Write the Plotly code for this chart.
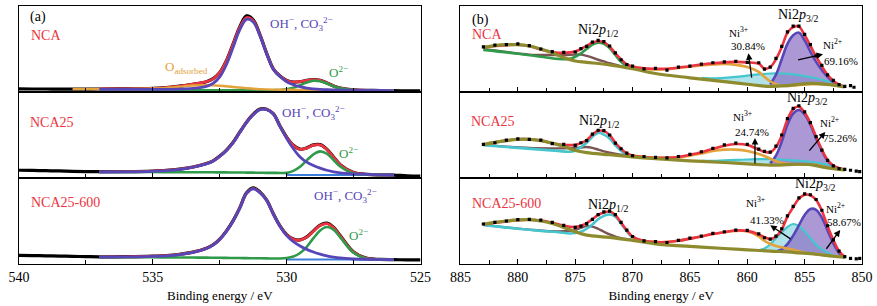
import plotly.graph_objects as go
from plotly.subplots import make_subplots

# ---------------- Panel (a): O 1s ----------------
XA = [537, 536, 535, 534.5, 534, 533.5, 533, 532.75, 532.5, 532.25, 532, 531.75, 531.5, 531.25, 531,
      530.75, 530.5, 530.25, 530, 529.75, 529.5, 529.25, 529, 528.75, 528.5, 528.25, 528, 527.5, 527, 526.5, 526]
XA_RAW = [540, 539.5, 539, 538.5, 538, 537.5, 537, 536, 535, 534.5, 534, 533.5, 533, 532.75, 532.5, 532.25,
          532, 531.75, 531.5, 531.25, 531, 530.75, 530.5, 530.25, 530, 529.75, 529.5, 529.25, 529, 528.75,
          528.5, 528.25, 528, 527.5, 527, 526.5, 526, 525.5, 525]
XADS = [538, 537, 536, 535, 534.5, 534, 533.5, 533, 532.5, 532, 531.5, 531, 530.5, 530, 529, 528, 527, 526]
XBASE_A = [530, 529, 528, 527, 526]

NCA_O_RAW = [0.036, 0.035, 0.035, 0.034, 0.034, 0.034, 0.035, 0.036, 0.042, 0.052, 0.069, 0.09, 0.12, 0.155,
             0.226, 0.365, 0.56, 0.76, 0.885, 0.84, 0.668, 0.452, 0.27, 0.185, 0.133, 0.115, 0.12, 0.135,
             0.145, 0.135, 0.105, 0.07, 0.045, 0.024, 0.02, 0.017, 0.015, 0.013, 0.012]
NCA_O_FIT = [0.035, 0.036, 0.042, 0.052, 0.069, 0.091, 0.12, 0.153, 0.224, 0.363, 0.555, 0.752, 0.865, 0.829,
             0.664, 0.451, 0.269, 0.184, 0.132, 0.115, 0.121, 0.135, 0.145, 0.134, 0.104, 0.07, 0.044, 0.023,
             0.02, 0.018, 0.017]
NCA_OH = [0.03, 0.03, 0.03, 0.031, 0.034, 0.042, 0.065, 0.1, 0.175, 0.32, 0.52, 0.725, 0.845, 0.815, 0.655,
          0.445, 0.265, 0.18, 0.12, 0.085, 0.062, 0.045, 0.036, 0.03, 0.026, 0.024, 0.022, 0.02, 0.019, 0.018, 0.017]
NCA_O2 = [0.02, 0.02, 0.02, 0.02, 0.02, 0.02, 0.02, 0.02, 0.02, 0.02, 0.02, 0.02, 0.02, 0.02, 0.02, 0.02,
          0.021, 0.024, 0.032, 0.05, 0.079, 0.11, 0.13, 0.124, 0.098, 0.066, 0.042, 0.023, 0.02, 0.018, 0.017]
NCA_ADS = [0.035, 0.033, 0.034, 0.04, 0.048, 0.062, 0.075, 0.08, 0.073, 0.058, 0.044, 0.034, 0.028, 0.026,
           0.024, 0.022, 0.021, 0.02]

NCA25_O_RAW = [0.09, 0.088, 0.085, 0.082, 0.078, 0.075, 0.073, 0.075, 0.081, 0.088, 0.103, 0.128, 0.168, 0.2,
               0.255, 0.325, 0.415, 0.535, 0.65, 0.742, 0.802, 0.8, 0.748, 0.605, 0.475, 0.38, 0.335, 0.35,
               0.385, 0.388, 0.335, 0.245, 0.155, 0.063, 0.042, 0.036, 0.034, 0.025, 0.022]
NCA25_O_FIT = [0.072, 0.074, 0.08, 0.087, 0.102, 0.127, 0.167, 0.197, 0.252, 0.322, 0.412, 0.532, 0.647, 0.737,
               0.797, 0.797, 0.747, 0.603, 0.473, 0.378, 0.334, 0.349, 0.382, 0.385, 0.332, 0.242, 0.154, 0.062,
               0.042, 0.037, 0.035]
NCA25_OH = [0.07, 0.072, 0.078, 0.085, 0.1, 0.125, 0.165, 0.195, 0.25, 0.32, 0.41, 0.53, 0.645, 0.735, 0.795,
            0.795, 0.745, 0.6, 0.46, 0.34, 0.245, 0.185, 0.145, 0.115, 0.09, 0.072, 0.06, 0.048, 0.041, 0.037, 0.035]
NCA25_O2 = [0.07, 0.07, 0.069, 0.068, 0.068, 0.067, 0.066, 0.066, 0.065, 0.065, 0.064, 0.064, 0.063, 0.062,
            0.061, 0.06, 0.06, 0.059, 0.06, 0.083, 0.13, 0.205, 0.275, 0.31, 0.282, 0.21, 0.133, 0.052, 0.04,
            0.036, 0.035]
NCA25_BASE = [0.036, 0.035, 0.035, 0.034, 0.034]

NCA25600_O_RAW = [0.1, 0.098, 0.095, 0.092, 0.089, 0.086, 0.083, 0.085, 0.091, 0.098, 0.113, 0.138, 0.183, 0.224,
                  0.29, 0.385, 0.505, 0.655, 0.828, 0.885, 0.838, 0.745, 0.585, 0.443, 0.342, 0.29, 0.28, 0.315,
                  0.385, 0.452, 0.475, 0.428, 0.33, 0.14, 0.066, 0.054, 0.051, 0.048, 0.047]
NCA25600_O_FIT = [0.082, 0.084, 0.09, 0.097, 0.112, 0.137, 0.182, 0.222, 0.287, 0.382, 0.502, 0.652, 0.822,
                  0.877, 0.832, 0.742, 0.582, 0.441, 0.339, 0.287, 0.278, 0.312, 0.381, 0.448, 0.47, 0.424,
                  0.327, 0.138, 0.065, 0.053, 0.05]
NCA25600_OH = [0.08, 0.082, 0.088, 0.095, 0.11, 0.135, 0.18, 0.22, 0.285, 0.38, 0.5, 0.65, 0.82, 0.875, 0.83,
               0.74, 0.58, 0.44, 0.33, 0.26, 0.21, 0.17, 0.14, 0.115, 0.095, 0.08, 0.07, 0.06, 0.055, 0.052, 0.05]
NCA25600_O2 = [0.08, 0.079, 0.078, 0.077, 0.076, 0.075, 0.074, 0.073, 0.072, 0.071, 0.07, 0.069, 0.068, 0.067,
               0.066, 0.065, 0.064, 0.064, 0.07, 0.087, 0.128, 0.2, 0.3, 0.39, 0.43, 0.4, 0.31, 0.13, 0.062,
               0.052, 0.05]
NCA25600_BASE = [0.053, 0.052, 0.051, 0.05, 0.05]

# ---------------- Panel (b): Ni 2p ----------------
XE = [883, 882, 881, 880, 879, 878, 877, 876, 875, 874.5, 874, 873.5, 873, 872.5, 872, 871.5, 871, 870.5, 870,
      869, 868, 867, 866, 865, 864, 863, 862, 861, 860, 859, 858.5, 858, 857.5, 857, 856.5, 856, 855.5, 855,
      854.5, 854, 853.5, 853, 852.5, 852, 851.5]
XRB1 = XE + [851, 850.7]
XRB2 = XE + [851, 850.5, 850.2]
XOL = [883, 882, 881, 880, 879, 878, 877, 876, 875, 874, 872, 870, 868, 865, 862, 860, 858, 856.5, 855.5,
       854.5, 853.5, 852.5, 851.5]
XBRN = [883, 881, 879, 877, 876, 875, 874.5, 874, 873.5, 873, 872.5, 872, 871, 870]
XP = [883, 880, 878, 876.5, 875.5, 875, 874.5, 874, 873.5, 873, 872.5, 872, 871.5, 871, 870.5, 870, 869]
XO = [870, 869, 868, 867, 866, 865, 864, 863, 862, 861, 860, 859, 858.5, 858, 857.5, 857, 856, 855, 854, 853,
      852, 851.5]
N3_X = [864, 863, 862, 861, 860, 859, 858, 857, 856, 855, 854, 853, 852.5, 852]
N2_X = [858, 857.5, 857, 856.5, 856, 855.5, 855, 854.5, 854, 853.5, 853, 852.5, 852, 851.5]
N3_X600 = [859, 858.5, 858, 857.5, 857, 856.5, 856, 855.5, 855, 854.5, 854, 853.5, 853, 852.5, 852, 851.5]
N2_X600 = [857.5, 857, 856.5, 856, 855.5, 855, 854.5, 854, 853.5, 853, 852.5, 852, 851.5]

NCA_NI_RAW = [0.525, 0.545, 0.55, 0.56, 0.54, 0.5, 0.47, 0.46, 0.465, 0.505, 0.53, 0.58, 0.6, 0.585, 0.535,
              0.455, 0.375, 0.32, 0.3, 0.27, 0.275, 0.255, 0.29, 0.3, 0.325, 0.34, 0.35, 0.355, 0.345, 0.34,
              0.265, 0.29, 0.39, 0.53, 0.7, 0.765, 0.765, 0.67, 0.55, 0.42, 0.31, 0.2, 0.135, 0.085, 0.065,
              0.075, 0.055]
NCA_NI_FIT = [0.52, 0.535, 0.545, 0.55, 0.535, 0.495, 0.465, 0.455, 0.47, 0.5, 0.535, 0.575, 0.59, 0.58, 0.53,
              0.45, 0.38, 0.32, 0.295, 0.275, 0.27, 0.27, 0.285, 0.3, 0.32, 0.335, 0.345, 0.35, 0.345, 0.33,
              0.27, 0.29, 0.38, 0.52, 0.69, 0.755, 0.76, 0.66, 0.54, 0.41, 0.3, 0.2, 0.13, 0.085, 0.06]
NCA_SAT1 = [0.52, 0.54, 0.55, 0.55, 0.535, 0.5, 0.455, 0.4, 0.36, 0.345, 0.315, 0.27, 0.215, 0.165, 0.12, 0.09,
            0.065, 0.075, 0.09, 0.1, 0.095, 0.08, 0.06]
NCA_SAT2 = [0.5, 0.465, 0.435, 0.43, 0.43, 0.435, 0.435, 0.42, 0.4, 0.375, 0.355, 0.335, 0.3, 0.275]
NCA_P12 = [0.49, 0.445, 0.41, 0.385, 0.385, 0.41, 0.45, 0.5, 0.55, 0.573, 0.56, 0.51, 0.43, 0.35, 0.3, 0.275, 0.25]
NCA_SAT3 = [0.285, 0.27, 0.26, 0.265, 0.28, 0.295, 0.31, 0.32, 0.325, 0.315, 0.29, 0.235, 0.175, 0.125, 0.09,
            0.072, 0.075, 0.088, 0.095, 0.088, 0.072, 0.06]
NCA_N3 = [0.165, 0.16, 0.165, 0.175, 0.19, 0.205, 0.215, 0.215, 0.205, 0.185, 0.16, 0.125, 0.1, 0.078]
NCA_N3_BG = [0.15, 0.135, 0.12, 0.107, 0.095, 0.08, 0.065, 0.07, 0.08, 0.095, 0.1, 0.092, 0.085, 0.075]
NCA_N2 = [0.09, 0.2, 0.38, 0.56, 0.66, 0.69, 0.6, 0.47, 0.35, 0.255, 0.175, 0.115, 0.082, 0.06]
NCA_N2_BG = [0.065, 0.068, 0.07, 0.075, 0.08, 0.09, 0.095, 0.1, 0.1, 0.098, 0.092, 0.085, 0.075, 0.06]

NCA25_NI_RAW = [0.39, 0.41, 0.44, 0.455, 0.45, 0.44, 0.4, 0.39, 0.38, 0.41, 0.435, 0.51, 0.555, 0.55, 0.5,
                0.405, 0.34, 0.29, 0.26, 0.25, 0.24, 0.235, 0.25, 0.275, 0.305, 0.345, 0.385, 0.405, 0.39,
                0.335, 0.31, 0.3, 0.37, 0.5, 0.69, 0.81, 0.84, 0.77, 0.645, 0.48, 0.325, 0.205, 0.14, 0.11,
                0.1, 0.09, 0.08, 0.075]
NCA25_NI_FIT = [0.39, 0.415, 0.435, 0.45, 0.45, 0.435, 0.405, 0.385, 0.385, 0.405, 0.44, 0.505, 0.55, 0.545,
                0.5, 0.41, 0.34, 0.285, 0.26, 0.245, 0.235, 0.235, 0.245, 0.27, 0.3, 0.34, 0.375, 0.395, 0.385,
                0.33, 0.305, 0.3, 0.36, 0.49, 0.68, 0.8, 0.83, 0.76, 0.64, 0.48, 0.33, 0.21, 0.145, 0.115, 0.1]
NCA25_SAT1 = [0.39, 0.415, 0.435, 0.45, 0.45, 0.435, 0.405, 0.37, 0.32, 0.295, 0.27, 0.245, 0.225, 0.2, 0.18,
              0.165, 0.15, 0.155, 0.16, 0.155, 0.13, 0.11, 0.095]
NCA25_SAT2 = [0.385, 0.365, 0.35, 0.345, 0.345, 0.35, 0.355, 0.36, 0.35, 0.33, 0.31, 0.295, 0.27, 0.255]
NCA25_P12 = [0.38, 0.35, 0.33, 0.315, 0.305, 0.32, 0.36, 0.41, 0.48, 0.525, 0.505, 0.46, 0.38, 0.315, 0.275,
             0.255, 0.24]
NCA25_SAT3 = [0.26, 0.245, 0.235, 0.235, 0.24, 0.26, 0.285, 0.315, 0.33, 0.33, 0.315, 0.28, 0.255, 0.225,
              0.195, 0.175, 0.16, 0.158, 0.15, 0.122, 0.1, 0.095]
NCA25_N3 = [0.2, 0.2, 0.205, 0.21, 0.215, 0.22, 0.22, 0.215, 0.205, 0.195, 0.18, 0.155, 0.135, 0.115]
NCA25_N3_BG = [0.195, 0.19, 0.18, 0.175, 0.165, 0.157, 0.15, 0.152, 0.158, 0.16, 0.145, 0.12, 0.11, 0.1]
NCA25_N2 = [0.17, 0.26, 0.42, 0.62, 0.75, 0.79, 0.74, 0.62, 0.46, 0.32, 0.2, 0.14, 0.11, 0.095]
NCA25_N2_BG = [0.15, 0.15, 0.152, 0.155, 0.158, 0.16, 0.158, 0.155, 0.145, 0.13, 0.12, 0.11, 0.1, 0.095]

NCA25600_NI_RAW = [0.465, 0.485, 0.5, 0.515, 0.52, 0.51, 0.485, 0.45, 0.425, 0.44, 0.47, 0.52, 0.575, 0.605,
                   0.615, 0.575, 0.485, 0.395, 0.32, 0.27, 0.26, 0.25, 0.275, 0.3, 0.325, 0.355, 0.375, 0.395,
                   0.39, 0.35, 0.305, 0.29, 0.325, 0.41, 0.56, 0.67, 0.77, 0.815, 0.805, 0.75, 0.625, 0.445,
                   0.28, 0.15, 0.085, 0.065, 0.06, 0.065]
NCA25600_NI_FIT = [0.46, 0.48, 0.495, 0.51, 0.515, 0.505, 0.48, 0.445, 0.43, 0.445, 0.475, 0.52, 0.57, 0.6,
                   0.61, 0.57, 0.48, 0.39, 0.32, 0.27, 0.255, 0.255, 0.27, 0.295, 0.32, 0.35, 0.37, 0.39, 0.385,
                   0.345, 0.31, 0.29, 0.32, 0.4, 0.55, 0.66, 0.76, 0.805, 0.8, 0.745, 0.62, 0.44, 0.28, 0.15, 0.08]
NCA25600_SAT1 = [0.465, 0.485, 0.5, 0.512, 0.515, 0.5, 0.47, 0.425, 0.375, 0.335, 0.31, 0.275, 0.235, 0.205,
                 0.18, 0.165, 0.15, 0.14, 0.13, 0.12, 0.105, 0.09, 0.08]
NCA25600_SAT2 = [0.455, 0.425, 0.4, 0.38, 0.38, 0.395, 0.42, 0.44, 0.435, 0.41, 0.375, 0.345, 0.3, 0.28]
NCA25600_P12 = [0.455, 0.41, 0.385, 0.37, 0.355, 0.36, 0.375, 0.41, 0.46, 0.52, 0.56, 0.575, 0.55, 0.47, 0.38,
                0.31, 0.265]
NCA25600_SAT3 = [0.3, 0.27, 0.255, 0.255, 0.27, 0.295, 0.32, 0.35, 0.37, 0.385, 0.38, 0.32, 0.27, 0.235, 0.21,
                 0.195, 0.165, 0.13, 0.115, 0.1, 0.085, 0.08]
NCA25600_N3 = [0.16, 0.18, 0.23, 0.3, 0.37, 0.43, 0.465, 0.44, 0.38, 0.3, 0.225, 0.17, 0.13, 0.1, 0.088, 0.08]
NCA25600_N3_BG = [0.16, 0.155, 0.15, 0.145, 0.14, 0.137, 0.135, 0.13, 0.125, 0.12, 0.115, 0.108, 0.1, 0.092,
                  0.085, 0.08]
NCA25600_N2 = [0.145, 0.17, 0.23, 0.33, 0.45, 0.57, 0.64, 0.63, 0.54, 0.39, 0.24, 0.13, 0.08]
NCA25600_N2_BG = [0.145, 0.14, 0.137, 0.135, 0.13, 0.125, 0.12, 0.115, 0.108, 0.1, 0.092, 0.085, 0.08]

SAMPLES = ["NCA", "NCA25", "NCA25-600"]
NI3_PCT = ["30.84%", "24.74%", "41.33%"]
NI2_PCT = ["69.16%", "75.26%", "58.67%"]

# ---------------- styling ----------------
RED = "#ec3340"
PURPLE = "#5646b8"
GREEN = "#2f9a4a"
ORANGE = "#e3a23c"
BLUE = "#3b7dd8"
OLIVE = "#8e8b2e"
BROWN = "#7b5555"
CYAN = "#45c6cf"
N3FILL = "rgba(150,218,226,0.75)"
N2FILL = "rgba(140,112,196,0.72)"
FONT = "Liberation Serif"

fig = make_subplots(rows=3, cols=2, horizontal_spacing=0.0474, vertical_spacing=0)


def line(x, y, color, width, row, col, shape="spline"):
    fig.add_trace(go.Scatter(x=x, y=y, mode="lines", line=dict(color=color, width=width, shape=shape),
                             hoverinfo="skip"), row=row, col=col)


def fill(x, top, low, color, row, col):
    fig.add_trace(go.Scatter(x=list(x) + list(x)[::-1], y=list(top) + list(low)[::-1], mode="lines",
                             fill="toself", fillcolor=color, line=dict(width=0), hoverinfo="skip"),
                  row=row, col=col)


# panel (a)
a_sets = [
    (NCA_O_RAW, NCA_O_FIT, NCA_OH, NCA_O2, None),
    (NCA25_O_RAW, NCA25_O_FIT, NCA25_OH, NCA25_O2, NCA25_BASE),
    (NCA25600_O_RAW, NCA25600_O_FIT, NCA25600_OH, NCA25600_O2, NCA25600_BASE),
]
for i, (raw, fit, oh, o2, base) in enumerate(a_sets):
    r = i + 1
    line(XA_RAW, raw, "black", 3.2, r, 1)
    line(XA, fit, RED, 2.8, r, 1)
    if base is not None:
        line(XBASE_A, base, BLUE, 2.0, r, 1)
    line(XA, o2, GREEN, 2.6, r, 1)
    if i == 0:
        line(XADS, NCA_ADS, ORANGE, 2.4, r, 1)
    line(XA, oh, PURPLE, 2.8, r, 1)

# panel (b)
b_sets = [
    (XRB1, NCA_NI_RAW, NCA_NI_FIT, NCA_SAT1, NCA_SAT2, NCA_P12, NCA_SAT3,
     N3_X, NCA_N3, NCA_N3_BG, N2_X, NCA_N2, NCA_N2_BG, GREEN),
    (XRB2, NCA25_NI_RAW, NCA25_NI_FIT, NCA25_SAT1, NCA25_SAT2, NCA25_P12, NCA25_SAT3,
     N3_X, NCA25_N3, NCA25_N3_BG, N2_X, NCA25_N2, NCA25_N2_BG, CYAN),
    (XRB2, NCA25600_NI_RAW, NCA25600_NI_FIT, NCA25600_SAT1, NCA25600_SAT2, NCA25600_P12, NCA25600_SAT3,
     N3_X600, NCA25600_N3, NCA25600_N3_BG, N2_X600, NCA25600_N2, NCA25600_N2_BG, CYAN),
]
for i, (xr, raw, fit, sat1, sat2, p12, sat3, n3x, n3, n3bg, n2x, n2, n2bg, pcol) in enumerate(b_sets):
    r = i + 1
    fill(n3x, n3, n3bg, N3FILL, r, 2)
    fill(n2x, n2, n2bg, N2FILL, r, 2)
    line(n3x, n3, CYAN, 2.2, r, 2)
    line(n2x, n2, PURPLE, 2.6, r, 2)
    line(XBRN, sat2, BROWN, 2.4, r, 2)
    line(XP, p12, pcol, 2.6, r, 2)
    line(XO, sat3, ORANGE, 2.6, r, 2)
    line(XE, fit, RED, 2.6, r, 2)
    line(XOL, sat1, OLIVE, 3.2, r, 2)
    fig.add_trace(go.Scatter(x=xr, y=raw, mode="markers",
                             marker=dict(color="black", size=3.2, symbol="square"), hoverinfo="skip"),
                  row=r, col=2)

# axes
for r in (1, 2, 3):
    for c in (1, 2):
        fig.update_xaxes(range=[540, 525] if c == 1 else [885, 850], showline=True, linecolor="black",
                         linewidth=1.3, mirror=True, ticks="inside", ticklen=5, tickwidth=1, tickcolor="black",
                         tick0=0, dtick=5,
                         minor=dict(dtick=2.5, ticks="inside", ticklen=4, tickcolor="black", tickwidth=1),
                         showgrid=False, zeroline=False, showticklabels=(r == 3),
                         tickfont=dict(size=14, family=FONT, color="black"), row=r, col=c)
        fig.update_yaxes(range=[0, 1], showline=True, linecolor="black", linewidth=1.3, mirror=True,
                         ticks="", showticklabels=False, showgrid=False, zeroline=False, row=r, col=c)
for c in (1, 2):
    fig.update_xaxes(title=dict(text="Binding energy / eV", font=dict(size=13, family=FONT, color="black"),
                                standoff=6), row=3, col=c)


def ref(r, c):
    n = (r - 1) * 2 + c
    return ("x" if n == 1 else f"x{n}"), ("y" if n == 1 else f"y{n}")


anns = []


def txt(text, x, y, r, c, color="black", size=13, xanchor="center"):
    xr, yr = ref(r, c)
    anns.append(dict(text=text, x=x, y=y, xref=xr, yref=yr, showarrow=False, xanchor=xanchor, yanchor="middle",
                     font=dict(color=color, size=size, family=FONT)))


def arrow(x0, y0, x1, y1, r, c):
    xr, yr = ref(r, c)
    anns.append(dict(text="", x=x1, y=y1, ax=x0, ay=y0, xref=xr, yref=yr, axref=xr, ayref=yr, showarrow=True,
                     arrowhead=2, arrowsize=1, arrowwidth=1.3, arrowcolor="black"))


OHTXT = "OH<sup>−</sup>, CO<sub>3</sub><sup>2−</sup>"
O2TXT = "O<sup>2−</sup>"
P12 = "Ni2<i>p</i><sub>1/2</sub>"
P32 = "Ni2<i>p</i><sub>3/2</sub>"

# panel (a) labels
txt("(a)", 539.3, 0.87, 1, 1, size=14)
txt(SAMPLES[0], 539.0, 0.66, 1, 1, color=RED, size=14)
txt(OHTXT, 530.68, 0.79, 1, 1, color=PURPLE, size=13, xanchor="left")
txt("O<sub>adsorbed</sub>", 533.75, 0.28, 1, 1, color=ORANGE, size=13)
txt(O2TXT, 528.07, 0.23, 1, 1, color=GREEN, size=13)
txt(SAMPLES[1], 538.77, 0.65, 2, 1, color=RED, size=14)
txt(OHTXT, 530.24, 0.756, 2, 1, color=PURPLE, size=13, xanchor="left")
txt(O2TXT, 527.69, 0.29, 2, 1, color=GREEN, size=13)
txt(SAMPLES[2], 538.28, 0.71, 3, 1, color=RED, size=14)
txt(OHTXT, 529.04, 0.79, 3, 1, color=PURPLE, size=13, xanchor="left")
txt(O2TXT, 527.32, 0.34, 3, 1, color=GREEN, size=13)

# panel (b) labels
txt("(b)", 883.26, 0.84, 1, 2, size=14)
txt(SAMPLES[0], 882.7, 0.674, 1, 2, color=RED, size=14)
txt(P12, 873.0, 0.72, 1, 2, size=14)
txt(P32, 855.5, 0.895, 1, 2, size=14)
txt("Ni<sup>3+</sup>", 860.8, 0.70, 1, 2, size=11)
txt(NI3_PCT[0], 859.9, 0.54, 1, 2, size=11)
txt("Ni<sup>2+</sup>", 852.6, 0.56, 1, 2, size=11)
txt(NI2_PCT[0], 851.8, 0.36, 1, 2, size=11)
arrow(859.6, 0.15, 859.9, 0.45, 1, 2)
arrow(855.7, 0.37, 853.4, 0.44, 1, 2)

txt(SAMPLES[1], 882.2, 0.66, 2, 2, color=RED, size=14)
txt(P12, 872.9, 0.66, 2, 2, size=14)
txt(P32, 854.75, 0.93, 2, 2, size=14)
txt("Ni<sup>3+</sup>", 860.4, 0.72, 2, 2, size=11)
txt(NI3_PCT[1], 859.55, 0.53, 2, 2, size=11)
txt("Ni<sup>2+</sup>", 852.8, 0.65, 2, 2, size=11)
txt(NI2_PCT[1], 851.9, 0.46, 2, 2, size=11)
arrow(859.33, 0.15, 859.33, 0.465, 2, 2)
arrow(854.7, 0.30, 853.2, 0.535, 2, 2)

txt(SAMPLES[2], 881.0, 0.705, 3, 2, color=RED, size=14)
txt(P12, 872.1, 0.686, 3, 2, size=14)
txt(P32, 854.05, 0.92, 3, 2, size=14)
txt("Ni<sup>3+</sup>", 859.3, 0.72, 3, 2, size=11)
txt(NI3_PCT[2], 858.3, 0.515, 3, 2, size=11)
txt("Ni<sup>2+</sup>", 852.3, 0.65, 3, 2, size=11)
txt(NI2_PCT[2], 851.6, 0.49, 3, 2, size=11)
arrow(856.1, 0.28, 858.0, 0.45, 3, 2)
arrow(853.2, 0.16, 851.9, 0.395, 3, 2)

fig.update_layout(width=877, height=306, margin=dict(l=19, r=15, t=6, b=42), plot_bgcolor="white",
                  paper_bgcolor="white", showlegend=False, annotations=anns, hovermode=False,
                  font=dict(family=FONT, color="black"))

fig.write_html("out.html", config={"displayModeBar": False, "staticPlot": True},
               post_script="document.body.style.margin='0px';")
